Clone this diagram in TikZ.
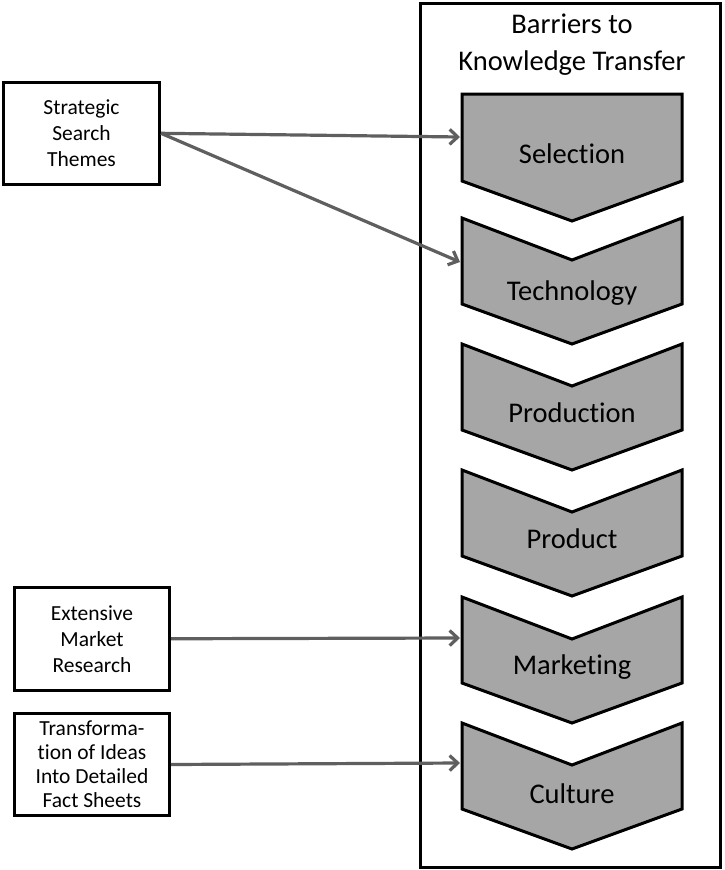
\documentclass[tikz,border=0pt]{standalone}
\usepackage{fontspec}
\setmainfont[Ligatures=NoCommon]{Carlito}
\usetikzlibrary{arrows.meta}
\definecolor{chevgray}{HTML}{A6A6A6}
\definecolor{arrowgray}{HTML}{5F5F5F}
\begin{document}
\begin{tikzpicture}[x=1pt,y=-1pt,
  frame/.style={draw=black, line width=3pt, fill=white, inner sep=0pt},
  lbox/.style={draw=black, line width=3pt, fill=white, align=center, inner sep=0pt, font=\fontsize{21.5}{26}\selectfont},
  chev/.style={draw=black, line width=3pt, fill=chevgray, line join=miter},
  lbl/.style={anchor=base, inner sep=0pt, font=\fontsize{28.5}{34}\selectfont},
  conn/.style={draw=arrowgray, line width=3.2pt, -{Straight Barb[length=8pt,width=15pt]}}]
\useasboundingbox (0,0) rectangle (724,870);
\node[frame, minimum width=300, minimum height=864] (frame) at (570.5,435) {};
% title
\node[lbl] (t1) at (572,33) {Barriers to};
\node[lbl] (t2) at (572,70) {Knowledge Transfer};
% chevrons
\draw[chev] (462,94) -- (682,94) -- (682,181) -- (572,221) -- (462,181) -- cycle;
\foreach \t in {218,344,470,597,723}{
  \draw[chev] (462,\t) -- (572,\t+42) -- (682,\t) -- (682,\t+86) -- (572,\t+126) -- (462,\t+86) -- cycle;
}
\node[lbl] (sel) at (572,163) {Selection};
\node[lbl] (tec) at (572,300) {Technology};
\node[lbl] (pro) at (572,422) {Production};
\node[lbl] (prd) at (572,548) {Product};
\node[lbl] (mkt) at (572,674) {Marketing};
\node[lbl] (cul) at (572,803) {Culture};
% connector end points on chevron left edges
\coordinate (selw) at (460,137);
\coordinate (tecw) at (460,262);
\coordinate (mktw) at (460,638);
\coordinate (culw) at (460,763);
% left boxes
\node[lbox, minimum width=156, minimum height=102.5] (sst) at (81.5,133.3) {Strategic\\Search\\Themes};
\node[lbox, minimum width=155, minimum height=102.5] (emr) at (92,638.75) {Extensive\\Market\\Research};
\node[lbox, minimum width=155, minimum height=102, font=\fontsize{21.5}{24}\selectfont] (tid) at (92,764.5) {Transforma-\\tion of Ideas\\Into Detailed\\Fact Sheets};
% connectors
\draw[conn] (sst.east) -- (selw);
\draw[conn] (sst.east) -- (tecw);
\draw[conn] (emr.east) -- (mktw);
\draw[conn] (tid.east) -- (culw);
\end{tikzpicture}
\end{document}
